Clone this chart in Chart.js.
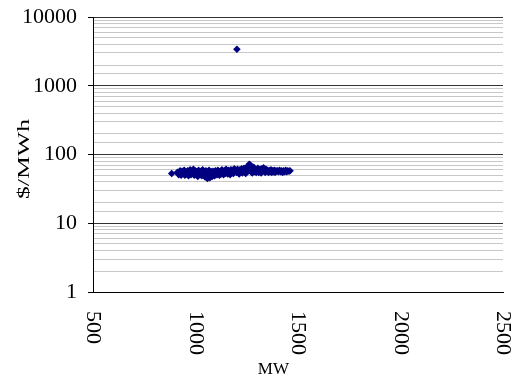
<!DOCTYPE html>
<html>
<head>
<meta charset="utf-8">
<script src="https://cdn.jsdelivr.net/npm/chart.js@4/dist/chart.umd.min.js"></script>
<style>
  html, body { margin: 0; padding: 0; background: #fff; }
</style>
</head>
<body>
<canvas id="chart" width="515" height="376"></canvas>
<script>
// Load (MW) and price ($/MWh) pairs
const mw = [
    884,
    912, 918, 925, 930, 935, 940, 945, 948, 952,
    958, 962, 966, 970, 974, 978, 982, 986, 990, 994, 998,
    1003, 1007, 1011, 1015, 1019, 1023, 1027, 1031, 1035, 1039, 1043, 1047,
    1051, 1055, 1058, 1062, 1066, 1070, 1073, 1077, 1081, 1085, 1089, 1093, 1097,
    1101, 1105, 1109, 1113, 1117, 1121, 1125, 1129, 1133, 1137, 1141, 1145, 1149,
    1153, 1157, 1161, 1165, 1169, 1173, 1177, 1181, 1185, 1189, 1193, 1197,
    1201, 1205, 1209, 1213, 1217, 1221, 1225, 1229, 1233, 1237, 1241, 1245, 1249,
    1252, 1256, 1259, 1262, 1265, 1268, 1271, 1274, 1277, 1280, 1284, 1288, 1292, 1296,
    1300, 1304, 1308, 1312, 1316, 1320, 1324, 1328, 1332, 1336, 1340, 1344, 1348,
    1352, 1356, 1360, 1364, 1368, 1372, 1376, 1380, 1384, 1388, 1392, 1396,
    1400, 1405, 1410, 1415, 1420, 1425, 1430, 1435, 1440, 1445, 1450, 1456, 1461,
    1202
];
const price = [
    53,
    55, 51, 58, 50, 57, 53, 59, 50, 56,
    52, 58, 49, 55, 60, 51, 57, 53, 61, 50, 58,
    52, 56, 48, 59, 54, 51, 57, 49, 60, 52, 56, 47,
    58, 50, 45, 54, 59, 46, 51, 56, 48, 57, 52, 49, 58,
    54, 51, 59, 55, 50, 57, 52, 60, 55, 51, 58, 53, 61,
    55, 52, 59, 56, 51, 60, 54, 58, 53, 62, 56, 59,
    55, 61, 57, 52, 60, 56, 62, 54, 59, 63, 57, 53, 61,
    64, 58, 69, 72, 66, 70, 56, 62, 54, 60, 65, 56, 61, 55,
    59, 63, 55, 58, 61, 54, 62, 57, 64, 58, 55, 61, 57,
    59, 55, 58, 56, 60, 55, 58, 56, 59, 55, 58, 57,
    58, 56, 59, 56, 58, 55, 58, 56, 59, 56, 58, 57, 58,
    3400
];
const xTicks = [500, 1000, 1500, 2000, 2500];
const yTicks = [1, 10, 100, 1000, 10000];
const xTitle = 'MW';
const yTitle = '$/MWh';

const serif = '"Times New Roman", "Liberation Serif", serif';

const points = mw.map((x, i) => ({ x: x, y: price[i] }));

function isMajor(v) {
    return yTicks.some(t => Math.abs(t - v) < 1e-9);
}

// x tick labels read top-to-bottom, plus both axis titles
const labelsPlugin = {
    id: 'labels',
    afterDraw(chart) {
        const ctx = chart.ctx;
        const area = chart.chartArea;
        const xs = chart.scales.x;

        ctx.save();
        ctx.fillStyle = '#000';
        ctx.font = '22px ' + serif;
        ctx.textAlign = 'left';
        ctx.textBaseline = 'middle';
        xTicks.forEach(v => {
            const px = xs.getPixelForValue(v);
            ctx.save();
            ctx.translate(px, area.bottom + 19);
            ctx.rotate(Math.PI / 2);
            ctx.fillText(String(v), 0, 0);
            ctx.restore();
        });

        ctx.font = '17px ' + serif;
        ctx.textAlign = 'center';
        ctx.textBaseline = 'alphabetic';
        ctx.fillText(xTitle, area.left + (area.right - area.left) * 0.44, chart.height - 2);

        // the y title is drawn stretched along its length, as in the original
        ctx.save();
        ctx.font = '17px ' + serif;
        const w = ctx.measureText(yTitle).width;
        ctx.translate(29, 159);
        ctx.rotate(-Math.PI / 2);
        ctx.scale(80 / w, 1);
        ctx.textAlign = 'center';
        ctx.fillText(yTitle, 0, 0);
        ctx.restore();
        ctx.restore();
    }
};

new Chart(document.getElementById('chart').getContext('2d'), {
    type: 'scatter',
    data: {
        datasets: [{
            data: points,
            pointStyle: 'rectRot',
            pointRadius: 3.8,
            pointBackgroundColor: '#000080',
            pointBorderColor: '#000080',
            pointBorderWidth: 0
        }]
    },
    options: {
        responsive: false,
        animation: false,
        layout: { padding: { top: 17, right: 12, left: 0, bottom: 0 } },
        plugins: {
            legend: { display: false },
            tooltip: { enabled: false }
        },
        scales: {
            x: {
                type: 'linear',
                min: 500,
                max: 2500,
                ticks: { display: false, stepSize: 500 },
                grid: { display: false },
                border: { display: true, color: '#000', width: 1 },
                afterFit(scale) { scale.height = 84; }
            },
            y: {
                type: 'logarithmic',
                min: 1,
                max: 10000,
                ticks: {
                    autoSkip: false,
                    color: '#000',
                    padding: 11,
                    font: { family: serif, size: 22 },
                    callback: (v) => isMajor(v) ? String(v) : ''
                },
                grid: {
                    color: (c) => isMajor(c.tick.value) ? '#333' : '#c8c8c8',
                    tickColor: (c) => isMajor(c.tick.value) ? '#000' : 'rgba(0,0,0,0)',
                    tickLength: 5,
                    lineWidth: 1
                },
                border: { display: true, color: '#000', width: 1 },
                afterFit(scale) {
                    scale.width = 93;
                    scale.paddingTop = 0;
                    scale.paddingBottom = 0;
                }
            }
        }
    },
    plugins: [labelsPlugin]
});
</script>
</body>
</html>
